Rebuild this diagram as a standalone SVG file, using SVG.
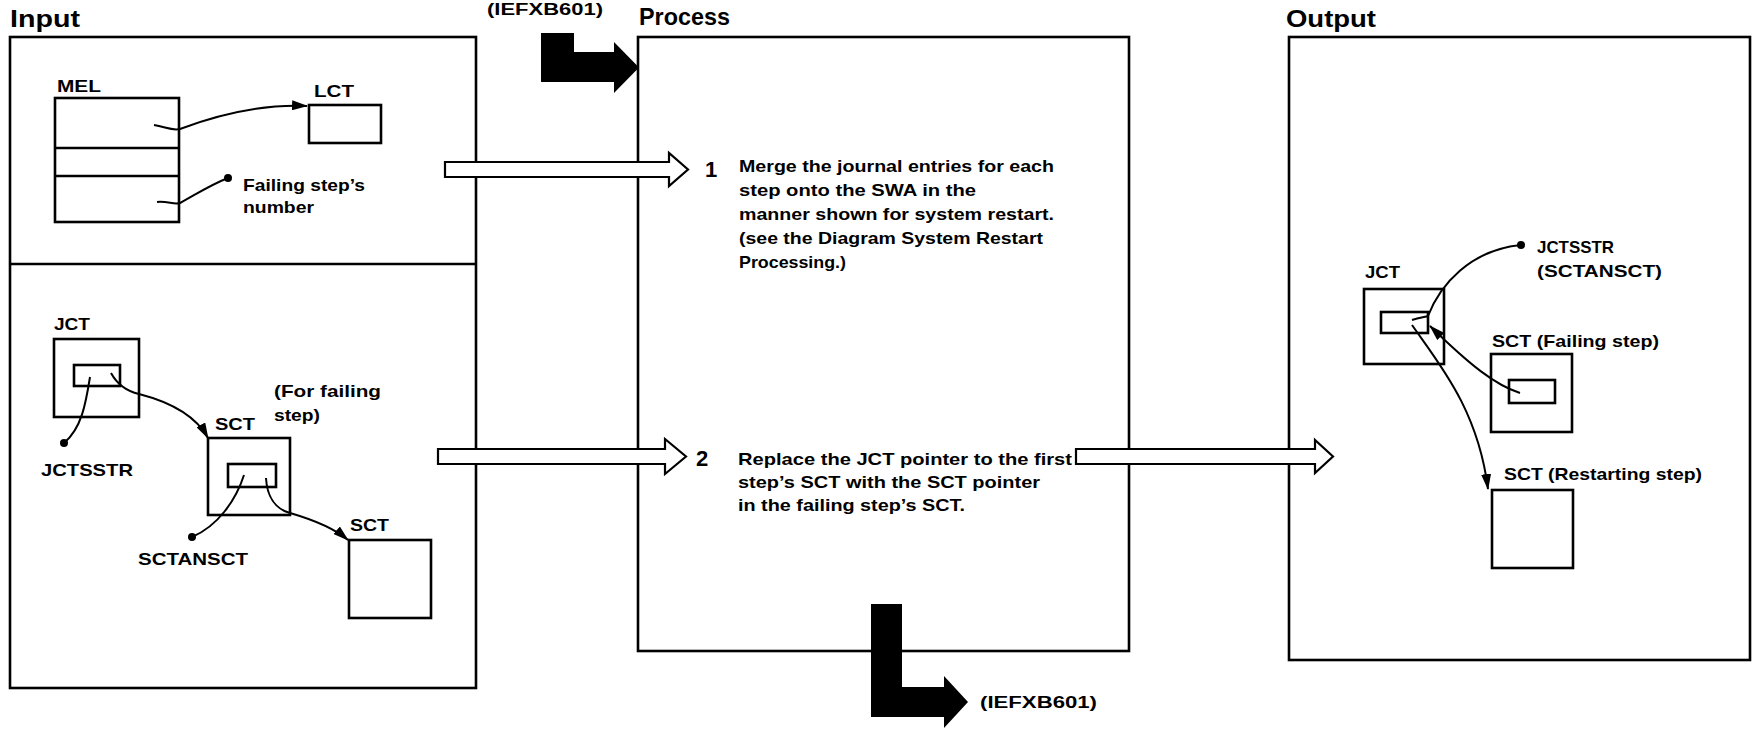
<svg xmlns="http://www.w3.org/2000/svg" width="1753" height="729" viewBox="0 0 1753 729">
<style>
.box{fill:none;stroke:#000;stroke-width:2.6}
.ln{fill:none;stroke:#000;stroke-width:2}
.hol{fill:#fff;stroke:#000;stroke-width:2.2;stroke-linejoin:miter}
.blk{fill:#000;stroke:none}
text{font-family:"Liberation Sans Narrow","Liberation Sans",Arial,sans-serif;fill:#000}
.title{font-size:24px;font-weight:bold}
.lbl{font-size:17px;font-weight:bold}
.body{font-size:17px;font-weight:bold}
.num{font-size:22px;font-weight:bold}
.ref{font-size:16px;font-weight:bold}
</style>
<defs>
<marker id="ah" viewBox="0 0 16 10" refX="15" refY="5" markerWidth="16" markerHeight="10" markerUnits="userSpaceOnUse" orient="auto">
<path d="M0,0 L16,5 L0,10 z" fill="#000"/>
</marker>
</defs>
<rect width="1753" height="729" fill="#fff"/>

<g id="titles">
<text class="title" x="10" y="27" textLength="70" lengthAdjust="spacingAndGlyphs">Input</text>
<text class="title" x="639" y="25" textLength="91" lengthAdjust="spacingAndGlyphs">Process</text>
<text class="title" x="1286" y="27" textLength="90" lengthAdjust="spacingAndGlyphs">Output</text>
</g>

<g id="input-panel">
<rect class="box" x="10" y="37" width="466" height="651"/>
<line class="box" x1="10" y1="264" x2="476" y2="264"/>
</g>

<g id="process-panel">
<rect class="box" x="638" y="37" width="491" height="614"/>
</g>

<g id="output-panel">
<rect class="box" x="1289" y="37" width="461" height="623"/>
</g>

<g id="mel">
<text class="lbl" x="57" y="92" textLength="44" lengthAdjust="spacingAndGlyphs">MEL</text>
<rect class="box" x="55" y="98" width="124" height="124"/>
<line class="box" x1="55" y1="148" x2="179" y2="148"/>
<line class="box" x1="55" y1="176" x2="179" y2="176"/>
</g>

<g id="lct">
<text class="lbl" x="314" y="97" textLength="40" lengthAdjust="spacingAndGlyphs">LCT</text>
<rect class="box" x="309" y="105" width="72" height="38"/>
</g>

<g id="failing-step-number">
<circle cx="228" cy="178" r="4"/>
<text class="lbl" x="243" y="191" textLength="122" lengthAdjust="spacingAndGlyphs">Failing step’s</text>
<text class="lbl" x="243" y="213" textLength="71" lengthAdjust="spacingAndGlyphs">number</text>
</g>

<g id="jct-in">
<text class="lbl" x="54" y="330" textLength="36" lengthAdjust="spacingAndGlyphs">JCT</text>
<rect class="box" x="54" y="339" width="85" height="78"/>
<rect class="box" x="74" y="365" width="46" height="21"/>
<circle cx="64" cy="443" r="4"/>
<text class="lbl" x="41" y="476" textLength="92" lengthAdjust="spacingAndGlyphs">JCTSSTR</text>
</g>

<g id="sct-failing-in">
<text class="lbl" x="274" y="397" textLength="107" lengthAdjust="spacingAndGlyphs">(For failing</text>
<text class="lbl" x="274" y="421" textLength="46" lengthAdjust="spacingAndGlyphs">step)</text>
<text class="lbl" x="215" y="430" textLength="40" lengthAdjust="spacingAndGlyphs">SCT</text>
<rect class="box" x="208" y="438" width="82" height="77"/>
<rect class="box" x="228" y="464" width="48" height="23"/>
<circle cx="192" cy="537" r="4"/>
<text class="lbl" x="138" y="565" textLength="110" lengthAdjust="spacingAndGlyphs">SCTANSCT</text>
</g>

<g id="sct-next-in">
<text class="lbl" x="350" y="531" textLength="39" lengthAdjust="spacingAndGlyphs">SCT</text>
<rect class="box" x="349" y="540" width="82" height="78"/>
</g>

<g id="step1">
<text class="num" x="705" y="177">1</text>
<text class="body" x="739" y="172" textLength="315" lengthAdjust="spacingAndGlyphs">Merge the journal entries for each</text>
<text class="body" x="739" y="196" textLength="237" lengthAdjust="spacingAndGlyphs">step onto the SWA in the</text>
<text class="body" x="739" y="220" textLength="315" lengthAdjust="spacingAndGlyphs">manner shown for system restart.</text>
<text class="body" x="739" y="244" textLength="304" lengthAdjust="spacingAndGlyphs">(see the Diagram System Restart</text>
<text class="body" x="739" y="268" textLength="107" lengthAdjust="spacingAndGlyphs">Processing.)</text>
</g>

<g id="step2">
<text class="num" x="696" y="466">2</text>
<text class="body" x="738" y="465" textLength="334" lengthAdjust="spacingAndGlyphs">Replace the JCT pointer to the first</text>
<text class="body" x="738" y="488" textLength="302" lengthAdjust="spacingAndGlyphs">step’s SCT with the SCT pointer</text>
<text class="body" x="738" y="511" textLength="227" lengthAdjust="spacingAndGlyphs">in the failing step’s SCT.</text>
</g>

<g id="jct-out">
<text class="lbl" x="1365" y="278" textLength="35" lengthAdjust="spacingAndGlyphs">JCT</text>
<rect class="box" x="1364" y="289" width="80" height="75"/>
<rect class="box" x="1381" y="312" width="47" height="21"/>
<circle cx="1521" cy="245" r="4"/>
<text class="lbl" x="1537" y="253" textLength="77" lengthAdjust="spacingAndGlyphs">JCTSSTR</text>
<text class="lbl" x="1537" y="277" textLength="125" lengthAdjust="spacingAndGlyphs">(SCTANSCT)</text>
</g>

<g id="sct-failing-out">
<text class="lbl" x="1492" y="347" textLength="167" lengthAdjust="spacingAndGlyphs">SCT (Failing step)</text>
<rect class="box" x="1491" y="354" width="81" height="78"/>
<rect class="box" x="1509" y="380" width="46" height="23"/>
</g>

<g id="sct-restart-out">
<text class="lbl" x="1504" y="480" textLength="198" lengthAdjust="spacingAndGlyphs">SCT (Restarting step)</text>
<rect class="box" x="1492" y="490" width="81" height="78"/>
</g>

<g id="refs">
<text class="ref" x="487" y="15" textLength="116" lengthAdjust="spacingAndGlyphs">(IEFXB601)</text>
<text class="ref" x="980" y="708" textLength="117" lengthAdjust="spacingAndGlyphs">(IEFXB601)</text>
</g>

<g id="connectors">
<path class="ln" d="M154,125 C166,127 172,131 180,129 C220,114 262,104 307,106" marker-end="url(#ah)"/>
<path class="ln" d="M157,202 C168,201 174,205 180,203 C195,195 210,185 228,178"/>
<path class="ln" d="M90,377 C86,402 82,428 64,443"/>
<path class="ln" d="M111,373 C117,384 126,391 139,394 C170,402 196,416 208,438" marker-end="url(#ah)"/>
<path class="ln" d="M244,475 C236,500 218,526 192,537"/>
<path class="ln" d="M266,478 C267,496 275,509 290,513 C314,520 334,528 348,540" marker-end="url(#ah)"/>
<path class="ln" d="M1412,320 C1418,318 1424,317 1428,316 C1440,285 1470,250 1521,245"/>
<path class="ln" d="M1520,393 C1495,385 1470,365 1430,326" marker-end="url(#ah)"/>
<path class="ln" d="M1412,325 C1440,365 1478,410 1488,489" marker-end="url(#ah)"/>
<polygon class="hol" points="445,162 669,162 669,153 688,169.5 669,186 669,177 445,177"/>
<polygon class="hol" points="438,449 665,449 665,439 686,456.5 665,474 665,464 438,464"/>
<polygon class="hol" points="1076,449 1315,449 1315,440 1333,456.5 1315,473 1315,464 1076,464"/>
<polygon class="blk" points="541,33 574,33 574,52 614,52 614,42 639,67.5 614,93 614,82 541,82"/>
<polygon class="blk" points="871,604 902,604 902,687 944,687 944,676 968,702 944,728 944,717 871,717"/>
</g>
</svg>
